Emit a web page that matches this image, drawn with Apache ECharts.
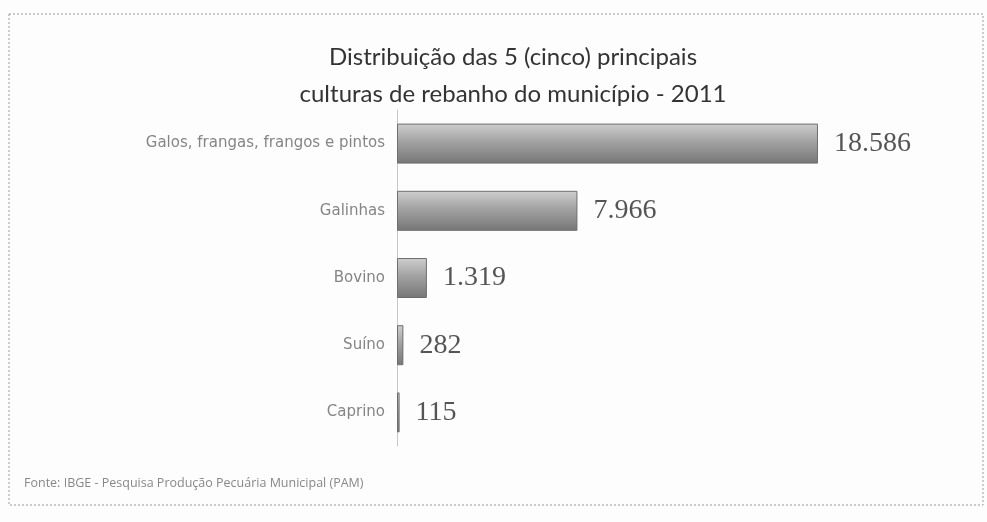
<!DOCTYPE html>
<html>
<head>
<meta charset="utf-8">
<script src="https://cdn.jsdelivr.net/npm/echarts@6/dist/echarts.min.js"></script>
<style>
  html, body { margin: 0; padding: 0; background: #fdfdfd; }
  #chart { width: 987px; height: 522px; }
</style>
</head>
<body>
<div id="chart"></div>
<script>
// rebanho do município - 2011
const categorias = ['Galos, frangas, frangos e pintos', 'Galinhas', 'Bovino', 'Suíno', 'Caprino'];
const valores = [18586, 7966, 1319, 282, 115];
const rotulos = ['18.586', '7.966', '1.319', '282', '115'];

const chart = echarts.init(document.getElementById('chart'));

const option = {
  backgroundColor: '#fdfdfd',
  animation: false,
  title: {
    text: 'Distribuição das 5 (cinco) principais\nculturas de rebanho do município - 2011',
    left: 508,
    top: 34,
    textAlign: 'center',
    textStyle: {
      fontFamily: 'Lato',
      fontWeight: 'normal',
      fontSize: 24,
      lineHeight: 37,
      color: '#333'
    }
  },
  grid: { left: 397, top: 110, width: 453, height: 336 },
  xAxis: {
    type: 'value',
    min: 0,
    max: 20000,
    show: false
  },
  yAxis: {
    type: 'category',
    inverse: true,
    data: categorias,
    axisLine: { lineStyle: { color: '#c8c8c8' } },
    axisTick: { length: 4, lineStyle: { color: '#c8c8c8' } },
    axisLabel: {
      margin: 12,
      fontFamily: 'DejaVu Sans',
      fontSize: 15,
      color: '#858585'
    }
  },
  series: [{
    type: 'bar',
    data: valores,
    barWidth: 40,
    itemStyle: {
      borderColor: '#6e6e6e',
      borderWidth: 1,
      color: new echarts.graphic.LinearGradient(0, 0, 0, 1, [
        { offset: 0, color: '#cfcfcf' },
        { offset: 0.45, color: '#a2a2a2' },
        { offset: 1, color: '#767676' }
      ])
    },
    label: {
      show: true,
      position: 'right',
      distance: 16,
      fontFamily: 'Liberation Serif',
      fontSize: 28,
      color: '#555',
      formatter: p => rotulos[p.dataIndex]
    }
  }],
  graphic: [
    {
      type: 'rect',
      shape: { x: 9, y: 14, width: 974, height: 491 },
      style: { fill: 'none', stroke: '#999', lineWidth: 1, lineDash: [2, 2] },
      silent: true
    },
    {
      type: 'text',
      left: 24,
      top: 477,
      style: {
        text: 'Fonte: IBGE - Pesquisa Produção Pecuária Municipal (PAM)',
        fontFamily: 'Open Sans',
        fontSize: 12.5,
        fill: '#888'
      }
    }
  ]
};

chart.setOption(option);
</script>
</body>
</html>
